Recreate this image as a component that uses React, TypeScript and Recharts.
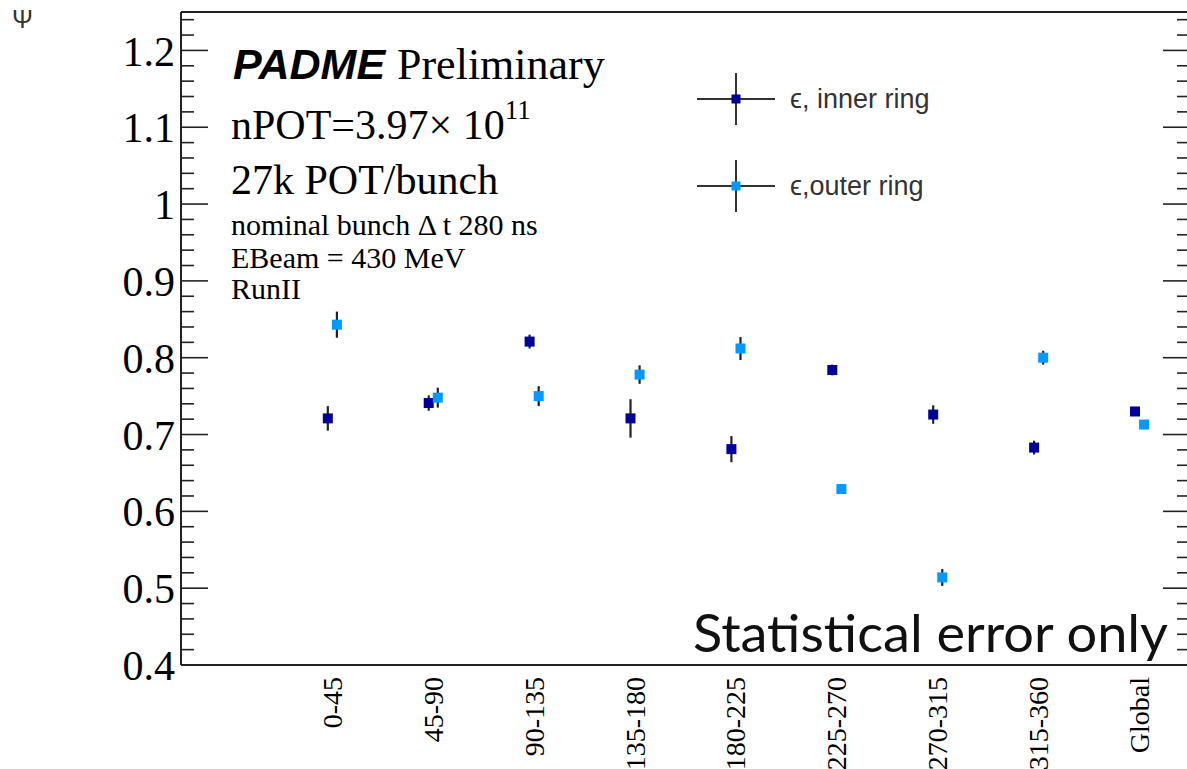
import {
  ScatterChart,
  Scatter,
  XAxis,
  YAxis,
  ErrorBar,
  Legend,
} from 'recharts'

// phi sectors of the calorimeter rings
const CATEGORIES = ['0-45', '45-90', '90-135', '135-180', '180-225', '225-270', '270-315', '315-360', 'Global']

const INNER_EFF = [0.721, 0.741, 0.821, 0.721, 0.681, 0.784, 0.726, 0.683, 0.730]
const INNER_ERR = [0.016, 0.010, 0.009, 0.025, 0.017, 0.007, 0.012, 0.009, 0.003]

const OUTER_EFF = [0.843, 0.748, 0.750, 0.778, 0.812, 0.629, 0.514, 0.800, 0.713]
const OUTER_ERR = [0.017, 0.013, 0.013, 0.012, 0.015, 0.006, 0.011, 0.009, 0.004]

const Y_TICKS = [
  0.4, 0.42, 0.44, 0.46, 0.48, 0.5, 0.52, 0.54, 0.56, 0.58, 0.6, 0.62, 0.64, 0.66, 0.68,
  0.7, 0.72, 0.74, 0.76, 0.78, 0.8, 0.82, 0.84, 0.86, 0.88, 0.9, 0.92, 0.94, 0.96, 0.98,
  1.0, 1.02, 1.04, 1.06, 1.08, 1.1, 1.12, 1.14, 1.16, 1.18, 1.2, 1.22, 1.24,
]
const Y_LABELS: Record<string, string> = {
  '0.4': '0.4', '0.5': '0.5', '0.6': '0.6', '0.7': '0.7', '0.8': '0.8',
  '0.9': '0.9', '1': '1', '1.1': '1.1', '1.2': '1.2',
}

const INNER_COLOR = '#000099'
const OUTER_COLOR = '#0099ff'
const AXIS_COLOR = '#222'
const SERIF = '"Liberation Serif", "Times New Roman", serif'
const SANS = '"Liberation Sans", Arial, sans-serif'

const SHIFT = 0.045

const innerData = CATEGORIES.map((c, i) => ({ x: i + 1.5 - SHIFT, y: INNER_EFF[i], err: INNER_ERR[i], cat: c }))
const outerData = CATEGORIES.map((c, i) => ({ x: i + 1.5 + SHIFT, y: OUTER_EFF[i], err: OUTER_ERR[i], cat: c }))
const xTicks = CATEGORIES.map((_, i) => i + 1.5)

function isMajor(v: number) {
  return Math.abs(v * 10 - Math.round(v * 10)) < 1e-6
}

function LeftTick(props: any) {
  const { x, y, payload } = props
  const v = payload.value
  const major = isMajor(v)
  const key = String(Math.round(v * 10) / 10)
  return (
    <g>
      <line x1={x} x2={x + (major ? 27 : 13)} y1={y} y2={y} stroke={AXIS_COLOR} strokeWidth={1.6} />
      {major && (
        <text x={x - 6} y={y} dy="0.36em" textAnchor="end" fontFamily={SERIF} fontSize={42} fill="#000">
          {Y_LABELS[key]}
        </text>
      )}
    </g>
  )
}

function RightTick(props: any) {
  const { x, y, payload } = props
  const major = isMajor(payload.value)
  return <line x1={x} x2={x - (major ? 27 : 13)} y1={y} y2={y} stroke={AXIS_COLOR} strokeWidth={1.6} />
}

function BottomTick(props: any) {
  const { x, y, payload } = props
  const idx = Math.round(payload.value - 1.5)
  const ty = y + 12
  return (
    <text
      x={x}
      y={ty}
      transform={`rotate(-90, ${x}, ${ty})`}
      textAnchor="end"
      dominantBaseline="central"
      fontFamily={SERIF}
      fontSize={28}
      fill="#000"
    >
      {CATEGORIES[idx]}
    </text>
  )
}

function SquareMarker(props: any) {
  const { cx, cy, fill } = props
  if (cx == null || cy == null) return null
  return <rect x={cx - 5} y={cy - 5} width={10} height={10} fill={fill} />
}

function EffLegend() {
  const rows = [
    { label: 'ϵ, inner ring', color: INNER_COLOR, cy: 34 },
    { label: 'ϵ,outer ring', color: OUTER_COLOR, cy: 121 },
  ]
  return (
    <svg width={320} height={160}>
      {rows.map(r => (
        <g key={r.label}>
          <line x1={7} x2={85} y1={r.cy} y2={r.cy} stroke="#333" strokeWidth={2} />
          <line x1={46} x2={46} y1={r.cy - 26} y2={r.cy + 26} stroke="#333" strokeWidth={2} />
          <rect x={41.5} y={r.cy - 4.5} width={9} height={9} fill={r.color} />
          <text x={100} y={r.cy + 9} fontFamily={SANS} fontSize={27} fill="#333">
            {r.label}
          </text>
        </g>
      ))}
    </svg>
  )
}

export default function App() {
  return (
    <div style={{ position: 'fixed', left: 0, top: 0, width: 1187, height: 769, overflow: 'hidden', background: '#fff' }}>
      <ScatterChart width={1200} height={769} margin={{ top: 11, right: 9, left: 180, bottom: 103 }}>
        <XAxis
          xAxisId="bottom"
          dataKey="x"
          type="number"
          domain={[0, 10]}
          ticks={xTicks}
          interval={0}
          height={1}
          tickSize={0}
          tickMargin={0}
          tickLine={false}
          tick={<BottomTick />}
          axisLine={{ stroke: AXIS_COLOR, strokeWidth: 2 }}
        />
        <XAxis
          xAxisId="top"
          orientation="top"
          type="number"
          domain={[0, 10]}
          height={1}
          tick={false}
          tickLine={false}
          axisLine={{ stroke: AXIS_COLOR, strokeWidth: 2 }}
        />
        <YAxis
          yAxisId="left"
          dataKey="y"
          type="number"
          domain={[0.4, 1.25]}
          allowDataOverflow
          ticks={Y_TICKS}
          interval={0}
          width={1}
          tickSize={0}
          tickMargin={0}
          tickLine={false}
          tick={<LeftTick />}
          axisLine={{ stroke: AXIS_COLOR, strokeWidth: 2 }}
        />
        <YAxis
          yAxisId="right"
          orientation="right"
          type="number"
          domain={[0.4, 1.25]}
          allowDataOverflow
          ticks={Y_TICKS}
          interval={0}
          width={1}
          tickSize={0}
          tickMargin={0}
          tickLine={false}
          tick={<RightTick />}
          axisLine={{ stroke: AXIS_COLOR, strokeWidth: 2 }}
        />
        <Legend
          layout="horizontal"
          align="center"
          verticalAlign="middle"
          content={<EffLegend />}
          wrapperStyle={{ left: 690, top: 65, width: 320, height: 160 }}
        />
        <Scatter
          name="ϵ, inner ring"
          data={innerData}
          xAxisId="bottom"
          yAxisId="left"
          fill={INNER_COLOR}
          shape={<SquareMarker />}
          isAnimationActive={false}
        >
          <ErrorBar dataKey="err" direction="y" width={0} stroke={AXIS_COLOR} strokeWidth={2.2} isAnimationActive={false} />
        </Scatter>
        <Scatter
          name="ϵ,outer ring"
          data={outerData}
          xAxisId="bottom"
          yAxisId="left"
          fill={OUTER_COLOR}
          shape={<SquareMarker />}
          isAnimationActive={false}
        >
          <ErrorBar dataKey="err" direction="y" width={0} stroke={AXIS_COLOR} strokeWidth={2.2} isAnimationActive={false} />
        </Scatter>
      </ScatterChart>

      <svg width={1187} height={769} style={{ position: 'absolute', left: 0, top: 0, pointerEvents: 'none' }}>
        <text x={12} y={28} fontFamily={SANS} fontSize={25} fill="#333">Ψ</text>
        <text x={233} y={79} fontFamily={SANS} fontSize={43} fontWeight="bold" fontStyle="italic" fill="#000">
          PADME
        </text>
        <text x={397} y={79} fontFamily={SERIF} fontSize={44} fill="#000">Preliminary</text>
        <text x={231} y={139} fontFamily={SERIF} fontSize={42} fill="#000">
          nPOT=3.97× 10
          <tspan dy={-20} fontSize={27}>11</tspan>
        </text>
        <text x={231} y={194} fontFamily={SERIF} fontSize={42} fill="#000">27k POT/bunch</text>
        <text x={231} y={235} fontFamily={SERIF} fontSize={30} fill="#000">nominal bunch Δ t 280 ns</text>
        <text x={231} y={268} fontFamily={SERIF} fontSize={30} fill="#000">EBeam = 430 MeV</text>
        <text x={231} y={299} fontFamily={SERIF} fontSize={30} fill="#000">RunII</text>
        <text x={693} y={652} fontFamily='Lato, "Open Sans", sans-serif' fontSize={52} fill="#111" textLength={475} lengthAdjust="spacingAndGlyphs">
          Statistical error only
        </text>
      </svg>
    </div>
  )
}
